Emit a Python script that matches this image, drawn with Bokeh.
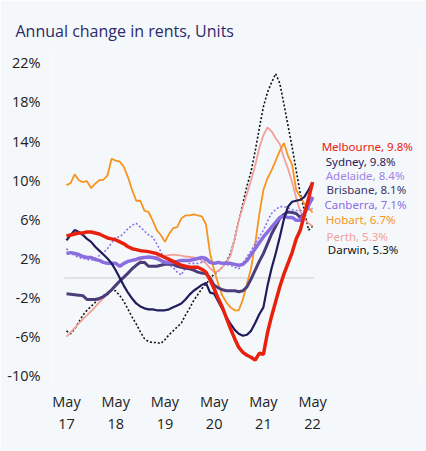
from bokeh.plotting import figure
from bokeh.models import Range1d, FixedTicker, Label
from bokeh.embed import file_html
from bokeh.resources import INLINE

months = list(range(61))

melbourne = [4.3, 4.4, 4.5, 4.6, 4.6, 4.7, 4.7, 4.6, 4.5, 4.3, 4.1, 4.0, 3.9, 3.7, 3.5, 3.2, 3.0, 2.9, 2.8, 2.75,
             2.7, 2.6, 2.5, 2.3, 2.1, 1.9, 1.7, 1.5, 1.3, 1.2, 1.1, 1.1, 1.1, 0.9, 0.6, -0.2, -1.1, -2.1, -3.0, -4.1,
             -5.2, -6.2, -7.1, -7.6, -7.9, -8.1, -8.4, -7.7, -7.8, -5.6, -3.9, -2.4, -0.9, 0.4, 1.5, 2.6, 4.0, 4.9, 6.5, 8.1, 9.8]
sydney = [3.85, 4.4, 4.9, 4.7, 4.4, 4.0, 3.7, 3.2, 2.8, 2.4, 2.0, 1.5, 0.8, 0.0, -0.8, -1.5, -2.1, -2.6, -2.9, -3.1,
          -3.2, -3.2, -3.3, -3.3, -3.3, -3.2, -3.0, -2.8, -2.6, -2.2, -1.7, -1.3, -1.0, -0.7, -0.5, -1.5, -1.6, -2.4, -3.2, -4.0,
          -4.7, -5.3, -5.7, -5.9, -5.8, -5.4, -4.6, -3.7, -3.0, -0.8, 1.0, 2.5, 4.2, 6.0, 7.3, 7.8, 7.9, 8.0, 8.3, 9.0, 9.8]
brisbane = [-1.6, -1.65, -1.7, -1.75, -1.8, -2.2, -2.2, -2.2, -2.1, -1.9, -1.6, -1.2, -0.75, -0.3, 0.1, 0.5, 0.95, 1.3, 1.6, 1.6,
            1.2, 1.2, 1.2, 1.3, 1.4, 1.4, 1.4, 1.2, 1.1, 1.0, 0.95, 0.8, 0.6, 0.5, 0.45, 0.0, -0.75, -1.0, -1.2, -1.3,
            -1.3, -1.3, -1.4, -1.3, -0.9, -0.1, 0.8, 1.7, 2.5, 3.5, 4.5, 5.3, 6.1, 6.5, 6.75, 6.7, 6.6, 6.2, 6.6, 7.6, 8.1]
adelaide = [2.5, 2.6, 2.5, 2.4, 2.2, 2.1, 2.1, 1.9, 1.8, 1.6, 1.5, 1.5, 1.5, 1.2, 1.5, 1.7, 1.8, 1.9, 2.05, 2.1,
            2.15, 2.1, 2.0, 1.8, 1.6, 1.6, 1.6, 1.7, 1.8, 1.8, 1.8, 1.9, 2.0, 2.1, 2.0, 1.6, 1.5, 1.6, 1.5, 1.5,
            1.5, 1.4, 1.3, 1.4, 1.8, 2.4, 3.0, 3.6, 4.2, 4.7, 5.2, 5.7, 6.2, 6.3, 6.2, 6.2, 5.9, 5.9, 6.6, 7.4, 8.3]
canberra = [3.0, 2.6, 2.3, 2.1, 2.0, 1.9, 1.8, 2.0, 2.3, 2.6, 3.0, 3.6, 4.2, 4.2, 4.6, 5.05, 5.4, 5.6, 5.2, 4.8,
            4.4, 4.2, 3.5, 2.7, 1.8, 1.3, 1.1, 0.6, 0.3, 1.1, 1.5, 1.5, 1.5, 1.6, 1.8, 1.6, 1.5, 1.5, 1.5, 1.4,
            1.3, 1.1, 0.95, 1.5, 2.15, 2.8, 3.5, 4.2, 4.9, 5.8, 6.6, 7.0, 7.3, 7.3, 7.2, 7.0, 6.9, 6.9, 6.9, 7.0, 7.1]
hobart = [9.5, 9.7, 10.6, 10.0, 9.8, 9.9, 9.2, 9.65, 10.0, 10.05, 10.5, 12.2, 12.0, 11.9, 11.35, 10.3, 9.0, 7.9, 7.9, 6.9,
          6.75, 5.9, 4.9, 4.4, 3.7, 4.5, 5.1, 5.2, 6.1, 6.4, 6.4, 6.5, 6.4, 6.3, 5.5, 2.5, 0.8, -0.6, -1.8, -2.5,
          -3.0, -3.3, -3.3, -2.2, -0.6, 1.0, 3.5, 6.5, 9.0, 10.2, 11.0, 12.0, 13.0, 13.8, 12.5, 11.6, 9.0, 8.3, 7.6, 7.2, 6.7]
perth = [-6.0, -5.55, -5.1, -4.65, -4.2, -3.8, -3.4, -2.95, -2.5, -2.05, -1.6, -1.2, -0.8, -0.35, 0.1, 0.5, 0.9, 1.35, 1.8, 2.15,
         2.15, 2.15, 2.15, 2.2, 2.3, 2.35, 2.4, 2.35, 2.3, 2.2, 2.15, 2.1, 2.0, 1.8, 1.5, 1.0, 0.6, 0.7, 1.1, 1.6,
         2.3, 4.0, 5.9, 7.3, 8.6, 10.0, 11.5, 13.3, 14.6, 15.4, 15.0, 14.3, 13.7, 12.3, 11.2, 9.8, 8.2, 6.8, 6.0, 5.6, 5.3]
darwin = [-5.4, -5.7, -5.2, -4.5, -3.8, -3.3, -2.9, -2.5, -2.1, -1.8, -1.5, -1.3, -1.3, -1.8, -2.4, -3.2, -4.0, -4.7, -5.5, -6.2,
          -6.5, -6.6, -6.6, -6.7, -6.3, -5.8, -5.4, -5.0, -4.6, -3.8, -3.1, -2.3, -1.7, -1.1, -0.6, -0.1, 0.4, 0.7, 1.1, 1.7,
          2.5, 4.0, 5.9, 7.6, 9.4, 10.9, 13.0, 15.3, 17.5, 19.0, 20.0, 20.9, 19.9, 17.8, 15.6, 13.4, 11.0, 8.6, 6.9, 4.9, 5.3]

x_ticks = [0, 12, 24, 36, 48, 60]
x_tick_labels = ["May\n17", "May\n18", "May\n19", "May\n20", "May\n21", "May\n22"]
y_ticks = [-10, -6, -2, 2, 6, 10, 14, 18, 22]

labels = ["Melbourne, 9.8%", "Sydney, 9.8%", "Adelaide, 8.4%", "Brisbane, 8.1%",
          "Canberra, 7.1%", "Hobart, 6.7%", "Perth, 5.3%", "Darwin, 5.3%"]

BG = "#f5f8fa"

p = figure(width=426, height=451, output_backend="svg", toolbar_location=None,
           x_range=Range1d(-3.41, 86.3), y_range=Range1d(-10.99, 23.47),
           min_border_left=52, min_border_right=6, min_border_top=48, min_border_bottom=66,
           background_fill_color=BG, border_fill_color=BG, outline_line_color=None)

p.title.text = "Annual change in rents, Units"
p.title.text_font = "Open Sans"
p.title.text_font_size = "16px"
p.title.text_font_style = "normal"
p.title.text_color = "#2b2a6b"
p.title.offset = -37
p.title.standoff = 14

p.xgrid.visible = False
p.ygrid.visible = False

for ax in (p.xaxis[0], p.yaxis[0]):
    ax.axis_line_color = None
    ax.major_tick_line_color = None
    ax.minor_tick_line_color = None
    ax.major_label_text_font = "Open Sans"
    ax.major_label_text_font_size = "14.5px"
    ax.major_label_text_color = "#222222"

p.yaxis.ticker = FixedTicker(ticks=y_ticks)
p.yaxis.major_label_overrides = {t: f"{t}%" for t in y_ticks}
p.yaxis.major_label_standoff = 6

p.xaxis.ticker = FixedTicker(ticks=x_ticks)
p.xaxis.major_label_overrides = dict(zip(x_ticks, x_tick_labels))
p.xaxis.major_label_text_line_height = 1.2
p.xaxis.major_label_standoff = 0

# zero line across data span
p.segment(x0=[months[0] - 0.5], y0=[0], x1=[months[-1] + 0.3], y1=[0], line_color="#d8dadc", line_width=1.5)

p.line(months, darwin, line_color="#111111", line_width=1.6, line_dash="2 2")
p.line(months, perth, line_color="#f4a09a", line_width=1.8)
p.line(months, hobart, line_color="#f7931e", line_width=1.8)
p.line(months, canberra, line_color="#8a72e6", line_width=1.6, line_dash="2 2")
p.line(months, brisbane, line_color="#4b3d7c", line_width=3)
p.line(months, adelaide, line_color="#8a6ee0", line_width=3.5)
p.line(months, sydney, line_color="#1f1b5c", line_width=2.2)
p.line(months, melbourne, line_color="#e8210f", line_width=3.5)

label_colors = ["#e8210f", "#1f1b5c", "#9f82e8", "#3d3366", "#8c6ee6", "#f7931e", "#f4a09a", "#111111"]
label_x = [62.2, 63.2, 63.2, 63.4, 62.9, 63.2, 63.4, 63.7]
label_y = [13.44, 11.95, 10.5, 9.05, 7.55, 6.0, 4.25, 2.95]
for t, c, lx, ly in zip(labels, label_colors, label_x, label_y):
    p.add_layout(Label(x=lx, y=ly, text=t, text_color=c, text_font="Noto Sans",
                       text_font_size="11.5px", text_baseline="middle", text_align="left"))

open("out.html", "w").write(file_html(p, INLINE))
